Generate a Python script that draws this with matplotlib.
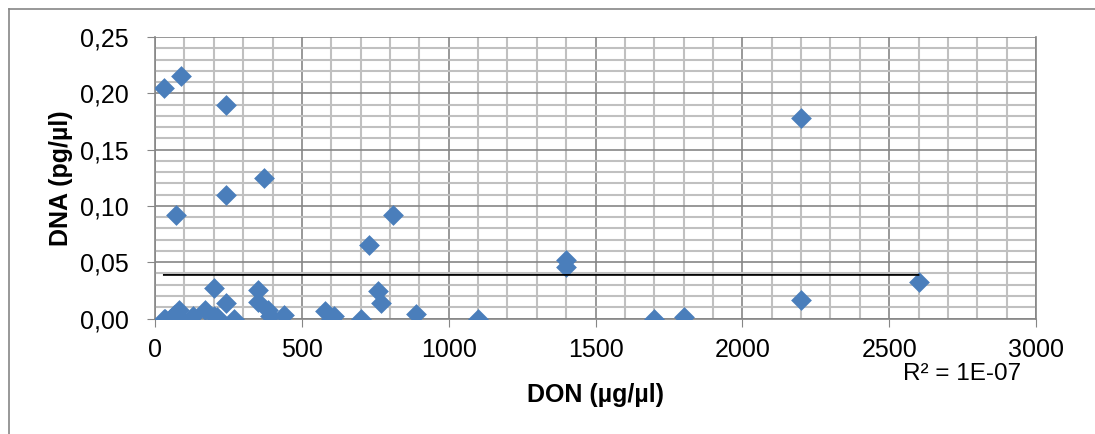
import numpy as np
import matplotlib
matplotlib.use("Agg")
import matplotlib.pyplot as plt
from matplotlib.ticker import MultipleLocator, FuncFormatter
from matplotlib.lines import Line2D

plt.rcParams['font.family'] = ['Liberation Sans', 'DejaVu Sans']

# DON (µg/µl) vs DNA (pg/µl) per sample
don = [30, 90, 240, 370, 240, 70, 810, 730, 1400, 1400, 2200, 2200, 2600,
       760, 770, 200, 350, 350, 240, 385, 390, 440, 580, 610, 700, 890,
       1100, 1700, 1800, 35, 65, 80, 85, 130, 170, 200, 210, 270,
       30, 50, 600]
dna = [0.205, 0.215, 0.190, 0.125, 0.110, 0.092, 0.092, 0.065, 0.052, 0.046,
       0.178, 0.016, 0.032, 0.024, 0.014, 0.027, 0.025, 0.015, 0.014, 0.0075,
       0.002, 0.003, 0.007, 0.002, 0.000, 0.004, 0.000, 0.000, 0.001, 0.000,
       0.003, 0.0075, 0.000, 0.002, 0.008, 0.002, 0.001, 0.000,
       0.000, 0.000, 0.000]

x = np.array(don, dtype=float)
y = np.array(dna)

fig = plt.figure(figsize=(10.95, 4.34), dpi=100)
ax = fig.add_axes([0.1416, 0.2661, 0.9461 - 0.1416, 0.9147 - 0.2661])

ax.set_xlim(0, 3000)
ax.set_ylim(0, 0.25)
ax.xaxis.set_major_locator(MultipleLocator(500))
ax.xaxis.set_minor_locator(MultipleLocator(100))
ax.yaxis.set_major_locator(MultipleLocator(0.05))
ax.yaxis.set_minor_locator(MultipleLocator(0.01))
ax.yaxis.set_major_formatter(FuncFormatter(lambda v, p: f"{v:.2f}".replace('.', ',')))

ax.grid(which='minor', color='#c0c0c0', linewidth=1.5)
ax.grid(which='major', color='#868686', linewidth=1.2)
ax.set_axisbelow(True)

ax.spines['top'].set_visible(False)
for side in ['left', 'bottom', 'right']:
    ax.spines[side].set_color('#868686')
    ax.spines[side].set_linewidth(1.2)

ax.tick_params(which='major', direction='out', length=6, color='#868686',
               labelsize=18)
ax.tick_params(axis='y', which='major', pad=13)
ax.tick_params(axis='x', which='major', pad=8)
ax.tick_params(which='minor', length=0)

ax.scatter(x, y, marker='D', s=112, color='#4a7ebb', zorder=3, linewidths=0)

# linear trend line over the data range
m, b = np.polyfit(x, y, 1)
xs = np.array([x.min(), x.max()])
ax.plot(xs, m * xs + b, color='black', linewidth=1.3, zorder=4)

ax.set_xlabel('DON (µg/µl)', fontsize=18, fontweight='bold', labelpad=15)
ax.set_ylabel('DNA (pg/µl)', fontsize=18, fontweight='bold', labelpad=5)
fig.text(1021 / 1095, 1 - 374 / 434, 'R² = 1E-07', fontsize=17.5,
         ha='right', va='center')

# outer chart frame
fig.add_artist(Line2D([9 / 1095, 9 / 1095], [1 - 9 / 434, 0], color='#868686',
                      linewidth=1.2, transform=fig.transFigure))
fig.add_artist(Line2D([9 / 1095, 1], [1 - 9 / 434, 1 - 9 / 434], color='#868686',
                      linewidth=1.2, transform=fig.transFigure))

fig.savefig('out.png', dpi=100)
